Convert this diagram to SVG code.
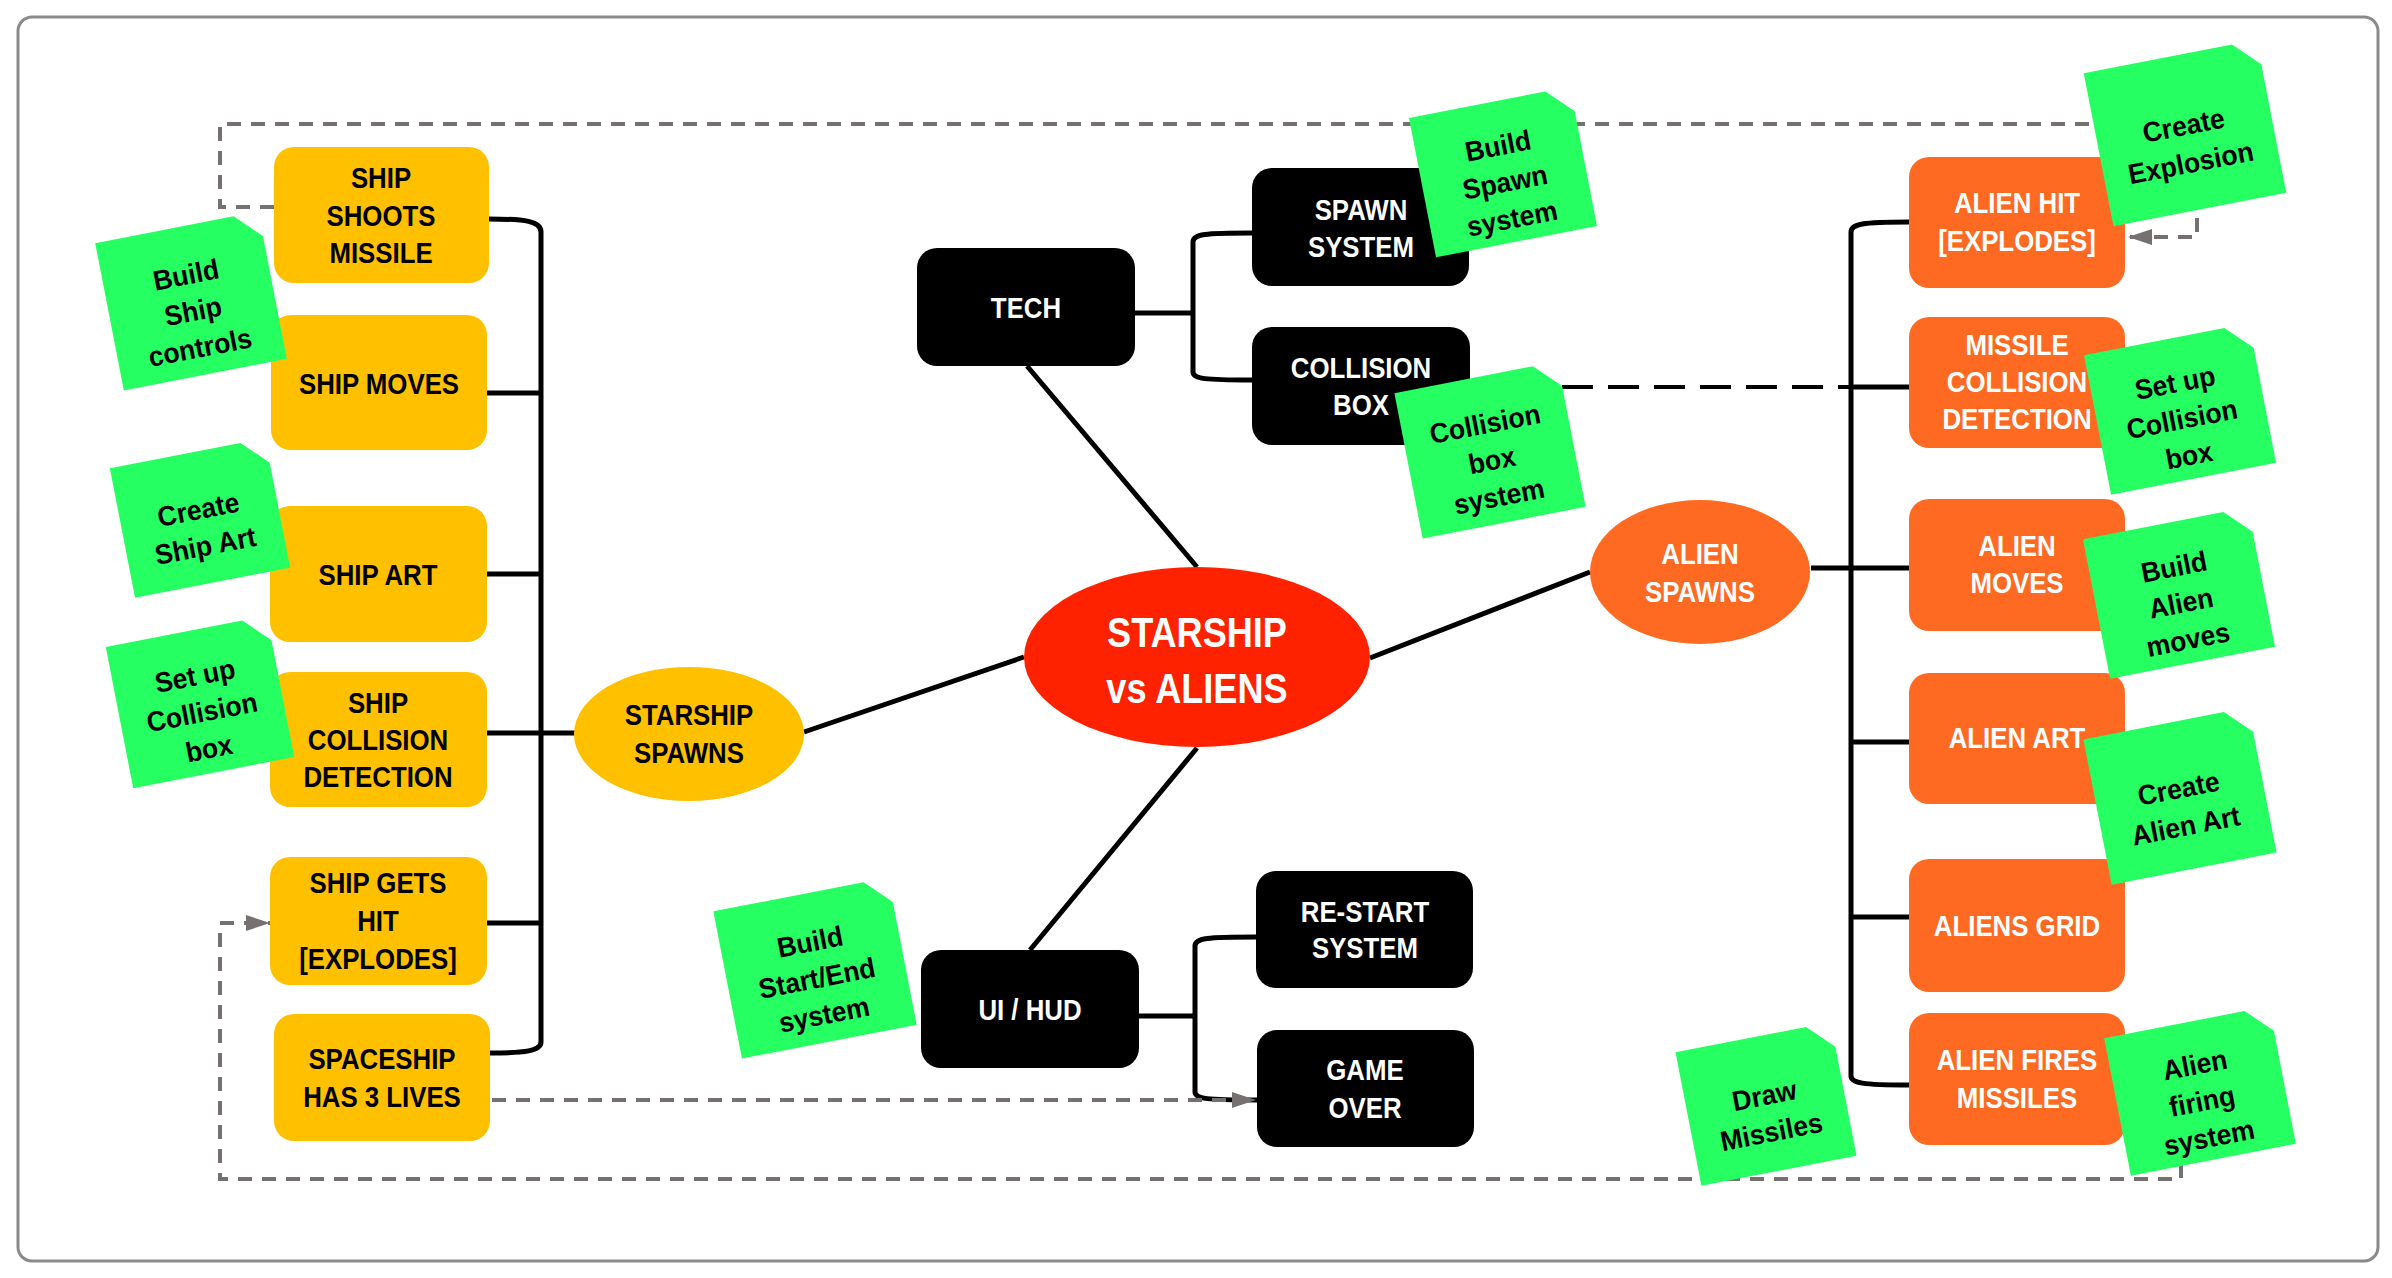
<svg xmlns="http://www.w3.org/2000/svg" width="2392" height="1278" viewBox="0 0 2392 1278">
<style>
.t{font-family:"Liberation Sans",Arial,sans-serif;font-weight:bold;font-size:29px;text-anchor:middle;transform-box:fill-box;transform-origin:center;transform:scaleX(0.89)}
.big{font-size:42px;transform:scaleX(0.86)}
.k{fill:#000}.w{fill:#fff}
.y{fill:#FFC000}.b{fill:#000}.o{fill:#FF6A22}
.c{fill:none;stroke:#000;stroke-width:5}
.gd{fill:none;stroke:#767171;stroke-width:4;stroke-dasharray:14 10}
.bd{fill:none;stroke:#000;stroke-width:4;stroke-dasharray:31 15}
.note{fill:#25FF62}
.n{font-family:"Liberation Sans",Arial,sans-serif;font-weight:bold;font-size:28px;text-anchor:middle;fill:#000;transform-box:fill-box;transform-origin:center;transform:scaleX(0.95)}
</style>
<defs>
<marker id="ah" viewBox="0 0 24 16" refX="24" refY="8" markerWidth="24" markerHeight="16" markerUnits="userSpaceOnUse" orient="auto"><path d="M0,0 L24,8 L0,16 Z" fill="#767171"/></marker>
</defs>
<rect x="0" y="0" width="2392" height="1278" fill="#fff"/>
<rect x="18" y="17" width="2360" height="1244" rx="14" fill="#fff" stroke="#8a8a8a" stroke-width="3"/>

<g id="connectors">
<path class="c" d="M489 219 C525 219 541 221 541 232 V1042 C541 1051 525 1053 490 1053"/>
<path class="c" d="M487 393 H541 M487 574 H541 M487 733 H575 M487 923 H541"/>
<path class="c" d="M1135 313 H1193 M1252 233 C1205 233 1193 234 1193 242 V372 C1193 379 1205 380 1252 380"/>
<path class="c" d="M1139 1016 H1195 M1256 937 C1207 937 1195 938 1195 946 V1092 C1195 1099 1207 1100 1257 1100"/>
<path class="c" d="M1909 222 C1862 222 1851 224 1851 232 V1076 C1851 1083 1862 1085 1909 1085"/>
<path class="c" d="M1851 387 H1909 M1811 568 H1909 M1851 742 H1909 M1851 917 H1909"/>
<path class="c" d="M804 732 L1024 657 M1027 366 L1197 567 M1197 748 L1030 950 M1370 658 L1590 572"/>
<path class="bd" d="M1470 387 H1851"/>
<path class="gd" d="M274 207 H220 V124 H2197 V237 H2128" marker-end="url(#ah)"/>
<path class="gd" d="M2125 1100 H2181 V1179 H220 V923 H270" marker-end="url(#ah)"/>
<path class="gd" d="M492 1100 H1256" marker-end="url(#ah)"/>
</g>

<g id="center"><ellipse cx="1197" cy="657" rx="173" ry="90" fill="#FF2200"/><text class="t big w" x="1197" y="647">STARSHIP</text><text class="t big w" x="1197" y="703">vs ALIENS</text></g>
<g id="starship-spawns"><ellipse cx="689" cy="734" rx="115" ry="67" class="y"/><text class="t k" x="689" y="725">STARSHIP</text><text class="t k" x="689" y="763">SPAWNS</text></g>
<g id="alien-spawns"><ellipse cx="1700" cy="572" rx="110" ry="72" class="o"/><text class="t w" x="1700" y="564">ALIEN</text><text class="t w" x="1700" y="602">SPAWNS</text></g>

<g id="ship-shoots"><rect x="274" y="147" width="215" height="136" rx="20" class="y"/><text class="t k" x="381" y="188">SHIP</text><text class="t k" x="381" y="226">SHOOTS</text><text class="t k" x="381" y="263">MISSILE</text></g>
<g id="ship-moves"><rect x="271" y="315" width="216" height="135" rx="20" class="y"/><text class="t k" x="379" y="394">SHIP MOVES</text></g>
<g id="ship-art"><rect x="270" y="506" width="217" height="136" rx="20" class="y"/><text class="t k" x="378" y="585">SHIP ART</text></g>
<g id="ship-collision"><rect x="270" y="672" width="217" height="135" rx="20" class="y"/><text class="t k" x="378" y="713">SHIP</text><text class="t k" x="378" y="750">COLLISION</text><text class="t k" x="378" y="787">DETECTION</text></g>
<g id="ship-hit"><rect x="270" y="857" width="217" height="128" rx="20" class="y"/><text class="t k" x="378" y="893">SHIP GETS</text><text class="t k" x="378" y="931">HIT</text><text class="t k" x="378" y="969">[EXPLODES]</text></g>
<g id="spaceship-lives"><rect x="274" y="1014" width="216" height="127" rx="20" class="y"/><text class="t k" x="382" y="1069">SPACESHIP</text><text class="t k" x="382" y="1107">HAS 3 LIVES</text></g>

<g id="tech"><rect x="917" y="248" width="218" height="118" rx="20" class="b"/><text class="t w" x="1026" y="318">TECH</text></g>
<g id="spawn-system"><rect x="1252" y="168" width="217" height="118" rx="20" class="b"/><text class="t w" x="1361" y="220">SPAWN</text><text class="t w" x="1361" y="257">SYSTEM</text></g>
<g id="collision-box"><rect x="1252" y="327" width="218" height="118" rx="20" class="b"/><text class="t w" x="1361" y="378">COLLISION</text><text class="t w" x="1361" y="415">BOX</text></g>
<g id="ui-hud"><rect x="921" y="950" width="218" height="118" rx="20" class="b"/><text class="t w" x="1030" y="1020">UI / HUD</text></g>
<g id="restart"><rect x="1256" y="871" width="217" height="117" rx="20" class="b"/><text class="t w" x="1365" y="922">RE-START</text><text class="t w" x="1365" y="958">SYSTEM</text></g>
<g id="game-over"><rect x="1257" y="1030" width="217" height="117" rx="20" class="b"/><text class="t w" x="1365" y="1080">GAME</text><text class="t w" x="1365" y="1118">OVER</text></g>

<g id="alien-hit"><rect x="1909" y="157" width="216" height="131" rx="20" class="o"/><text class="t w" x="2017" y="213">ALIEN HIT</text><text class="t w" x="2017" y="251">[EXPLODES]</text></g>
<g id="missile-collision"><rect x="1909" y="317" width="216" height="131" rx="20" class="o"/><text class="t w" x="2017" y="355">MISSILE</text><text class="t w" x="2017" y="392">COLLISION</text><text class="t w" x="2017" y="429">DETECTION</text></g>
<g id="alien-moves"><rect x="1909" y="499" width="216" height="132" rx="20" class="o"/><text class="t w" x="2017" y="556">ALIEN</text><text class="t w" x="2017" y="593">MOVES</text></g>
<g id="alien-art"><rect x="1909" y="673" width="216" height="131" rx="20" class="o"/><text class="t w" x="2017" y="748">ALIEN ART</text></g>
<g id="aliens-grid"><rect x="1909" y="859" width="216" height="133" rx="20" class="o"/><text class="t w" x="2017" y="936">ALIENS GRID</text></g>
<g id="alien-fires"><rect x="1909" y="1013" width="216" height="132" rx="20" class="o"/><text class="t w" x="2017" y="1070">ALIEN FIRES</text><text class="t w" x="2017" y="1108">MISSILES</text></g>

<g id="note-ship-controls" transform="translate(191 301) rotate(-11)"><path class="note" d="M-83 -75 H58 L83 -50 V75 H-83 Z"/><text class="n" y="-17">Build</text><text class="n" y="20">Ship</text><text class="n" y="57">controls</text></g>
<g id="note-ship-art" transform="translate(200 518) rotate(-11)"><path class="note" d="M-79 -66 H54 L79 -41 V66 H-79 Z"/><text class="n" y="1">Create</text><text class="n" y="38">Ship Art</text></g>
<g id="note-ship-collision" transform="translate(200 702) rotate(-11)"><path class="note" d="M-82 -72 H57 L82 -47 V72 H-82 Z"/><text class="n" y="-17">Set up</text><text class="n" y="20">Collision</text><text class="n" y="57">box</text></g>
<g id="note-start-end" transform="translate(815 968) rotate(-11)"><path class="note" d="M-89 -75 H64 L89 -50 V75 H-89 Z"/><text class="n" y="-17">Build</text><text class="n" y="20">Start/End</text><text class="n" y="57">system</text></g>
<g id="note-spawn" transform="translate(1503 172) rotate(-11)"><path class="note" d="M-82 -71 H57 L82 -46 V71 H-82 Z"/><text class="n" y="-17">Build</text><text class="n" y="20">Spawn</text><text class="n" y="57">system</text></g>
<g id="note-collision-box" transform="translate(1490 450) rotate(-11)"><path class="note" d="M-83 -74 H58 L83 -49 V74 H-83 Z"/><text class="n" y="-17">Collision</text><text class="n" y="20">box</text><text class="n" y="57">system</text></g>
<g id="note-explosion" transform="translate(2185 133) rotate(-11)"><path class="note" d="M-88 -78 H63 L88 -53 V78 H-88 Z"/><text class="n" y="2">Create</text><text class="n" y="40">Explosion</text></g>
<g id="note-alien-collision" transform="translate(2180 409) rotate(-11)"><path class="note" d="M-84 -71 H59 L84 -46 V71 H-84 Z"/><text class="n" y="-17">Set up</text><text class="n" y="20">Collision</text><text class="n" y="57">box</text></g>
<g id="note-alien-moves" transform="translate(2179 593) rotate(-11)"><path class="note" d="M-84 -71 H59 L84 -46 V71 H-84 Z"/><text class="n" y="-17">Build</text><text class="n" y="20">Alien</text><text class="n" y="57">moves</text></g>
<g id="note-alien-art" transform="translate(2180 796) rotate(-11)"><path class="note" d="M-84 -74 H59 L84 -49 V74 H-84 Z"/><text class="n" y="2">Create</text><text class="n" y="40">Alien Art</text></g>
<g id="note-alien-firing" transform="translate(2200 1091) rotate(-11)"><path class="note" d="M-84 -70 H59 L84 -45 V70 H-84 Z"/><text class="n" y="-17">Alien</text><text class="n" y="20">firing</text><text class="n" y="57">system</text></g>
<g id="note-draw-missiles" transform="translate(1766 1104) rotate(-11)"><path class="note" d="M-79 -68 H54 L79 -43 V68 H-79 Z"/><text class="n" y="1">Draw</text><text class="n" y="38">Missiles</text></g>
</svg>
